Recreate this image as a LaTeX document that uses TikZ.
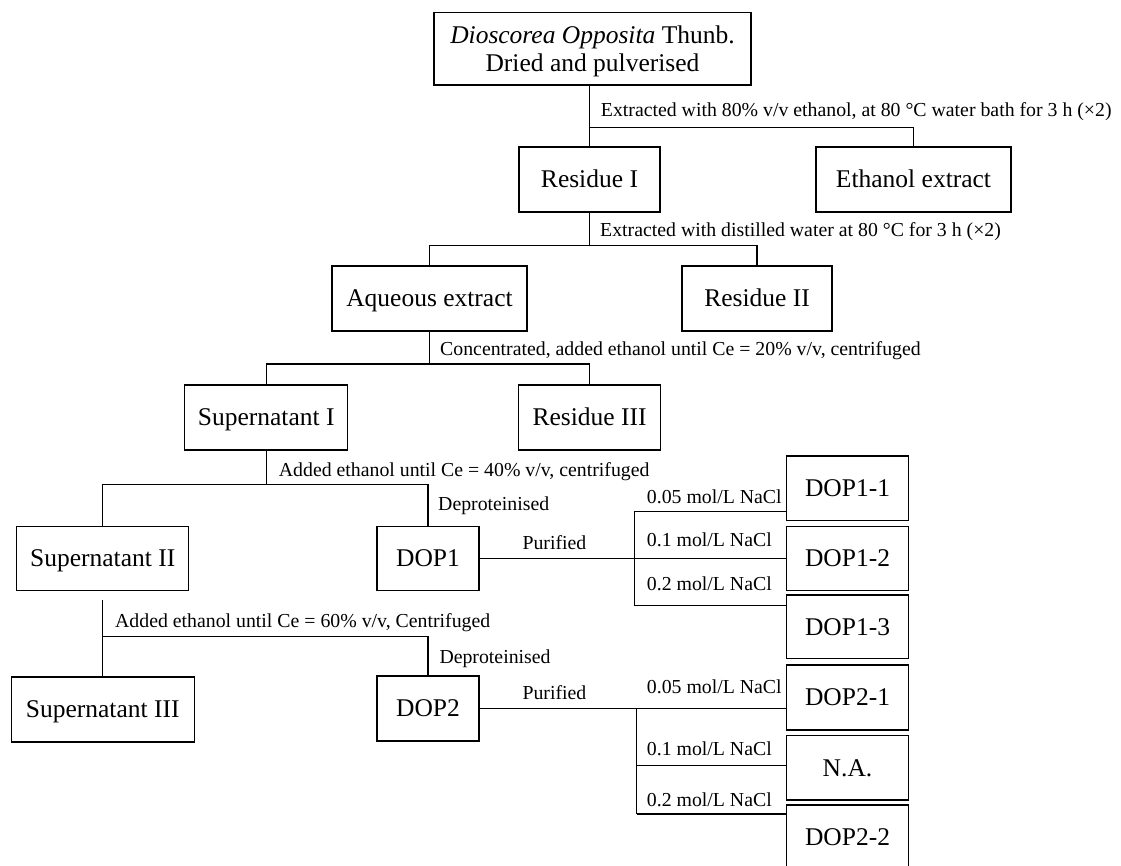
\documentclass[tikz,border=0pt]{standalone}
\usepackage{fontspec}
\setmainfont{Liberation Serif}
\begin{document}
\begin{tikzpicture}[x=1pt,y=-1pt,
  box/.style={draw, line width=1.3pt, inner sep=0pt, text height=16.9pt, text depth=0pt, font=\fontsize{25.5}{28.4}\selectfont},
  dopbox/.style={box, minimum width=121.6pt},
  lbl/.style={anchor=base west, inner sep=0pt, font=\fontsize{19.8}{22}\selectfont},
  conn/.style={line width=1.3pt}]
\useasboundingbox (0,0) rectangle (1121,865);
% boxes
\node[draw, line width=1.3pt, inner sep=0pt, minimum width=317pt, minimum height=72.3pt, align=center, text depth=0pt, font=\fontsize{25.5}{28.4}\selectfont] (top) at (592.5,48.9) {\textit{Dioscorea Opposita} Thunb.\\Dried and pulverised};
\node[box, minimum width=141pt, minimum height=65pt] (r1) at (589.5,179.5) {Residue I};
\node[box, minimum width=195pt, minimum height=65pt] (eth) at (913.5,179.5) {Ethanol extract};
\node[box, minimum width=195pt, minimum height=65pt] (aq) at (429.5,298.5) {Aqueous extract};
\node[box, minimum width=150pt, minimum height=65pt] (r2) at (757,298.5) {Residue II};
\node[box, minimum width=163pt, minimum height=65pt] (s1) at (266.2,417.5) {Supernatant I};
\node[box, minimum width=142pt, minimum height=65pt] (r3) at (589.6,417.5) {Residue III};
\node[box, minimum width=172pt, minimum height=64pt] (s2) at (102.7,558.5) {Supernatant II};
\node[box, minimum width=102pt, minimum height=64pt] (d1) at (428,558.5) {DOP1};
\node[box, minimum width=183pt, minimum height=65pt] (s3) at (102.7,709.5) {Supernatant III};
\node[box, minimum width=102pt, minimum height=65pt] (d2) at (428,708.5) {DOP2};
\node[dopbox, minimum height=64.7pt] (d11) at (847.5,488.4) {DOP1-1};
\node[dopbox, minimum height=64pt] (d12) at (847.5,558.5) {DOP1-2};
\node[dopbox, minimum height=63.5pt] (d13) at (847.5,626.8) {DOP1-3};
\node[dopbox, minimum height=65pt] (d21) at (847.5,697.5) {DOP2-1};
\node[dopbox, minimum height=64.3pt] (na) at (847.5,767.9) {N.A.};
\node[dopbox, minimum height=65pt] (d22) at (847.5,837.5) {DOP2-2};
% junction coordinates
\coordinate (h1) at (589.5,127.3);
\coordinate (h2) at (589.5,245.7);
\coordinate (h3) at (429.5,364);
\coordinate (h4) at (266.2,484.3);
\coordinate (g5) at (102.7,600);
\coordinate (h5) at (102.7,636.7);
\coordinate (b1t) at (634.3,511.7);
\coordinate (b1b) at (634.3,605.7);
\coordinate (b2t) at (636.7,708.5);
\coordinate (b2m) at (636.7,765.7);
\coordinate (b2b) at (636.7,814);
% connectors
\draw[conn] (top.south -| r1.north) -- (r1.north);
\draw[conn] (h1) -| (eth.north);
\draw[conn] (r1.south) -- (h2);
\draw[conn] (aq.north) |- (h2) -| (r2.north);
\draw[conn] (aq.south) -- (h3);
\draw[conn] (s1.north) |- (h3) -| (r3.north);
\draw[conn] (s1.south) -- (h4);
\draw[conn] (s2.north) |- (h4) -| (d1.north);
\draw[conn] (g5) -- (h5);
\draw[conn] (s3.north) |- (h5) -| (d2.north);
\draw[conn] (d1.east) -- (d12.west);
\draw[conn] (b1t) -- (b1b);
\draw[conn] (b1t) -- (d11.west |- b1t);
\draw[conn] (b1b) -- (d13.west |- b1b);
\draw[conn] (d2.east) -- (d21.west |- d2.east);
\draw[conn] (b2t) -- (b2b);
\draw[conn] (b2m) -- (na.west |- b2m);
\draw[conn] (b2b) -- (d22.west |- b2b);
% labels
\node[lbl] (l1) at (600.7,116.5) {Extracted with 80\% v/v ethanol, at 80 °C water bath for 3 h (×2)};
\node[lbl] (l2) at (600,236.5) {Extracted with distilled water at 80 °C for 3 h (×2)};
\node[lbl] (l3) at (440,355) {Concentrated, added ethanol until Ce = 20\% v/v, centrifuged};
\node[lbl] (l4) at (278.7,476.7) {Added ethanol until Ce = 40\% v/v, centrifuged};
\node[lbl] (dp1) at (438,510) {Deproteinised};
\node[lbl] (pu1) at (522.3,549.5) {Purified};
\node[lbl] (n11) at (646.7,503.3) {0.05 mol/L NaCl};
\node[lbl] (n12) at (646.7,546.7) {0.1 mol/L NaCl};
\node[lbl] (n13) at (646.7,590.7) {0.2 mol/L NaCl};
\node[lbl] (l5) at (115,627.5) {Added ethanol until Ce = 60\% v/v, Centrifuged};
\node[lbl] (dp2) at (439.3,663) {Deproteinised};
\node[lbl] (pu2) at (522.3,699.3) {Purified};
\node[lbl] (n21) at (646.7,693.3) {0.05 mol/L NaCl};
\node[lbl] (n22) at (646.7,755) {0.1 mol/L NaCl};
\node[lbl] (n23) at (646.7,806) {0.2 mol/L NaCl};
\end{tikzpicture}
\end{document}
